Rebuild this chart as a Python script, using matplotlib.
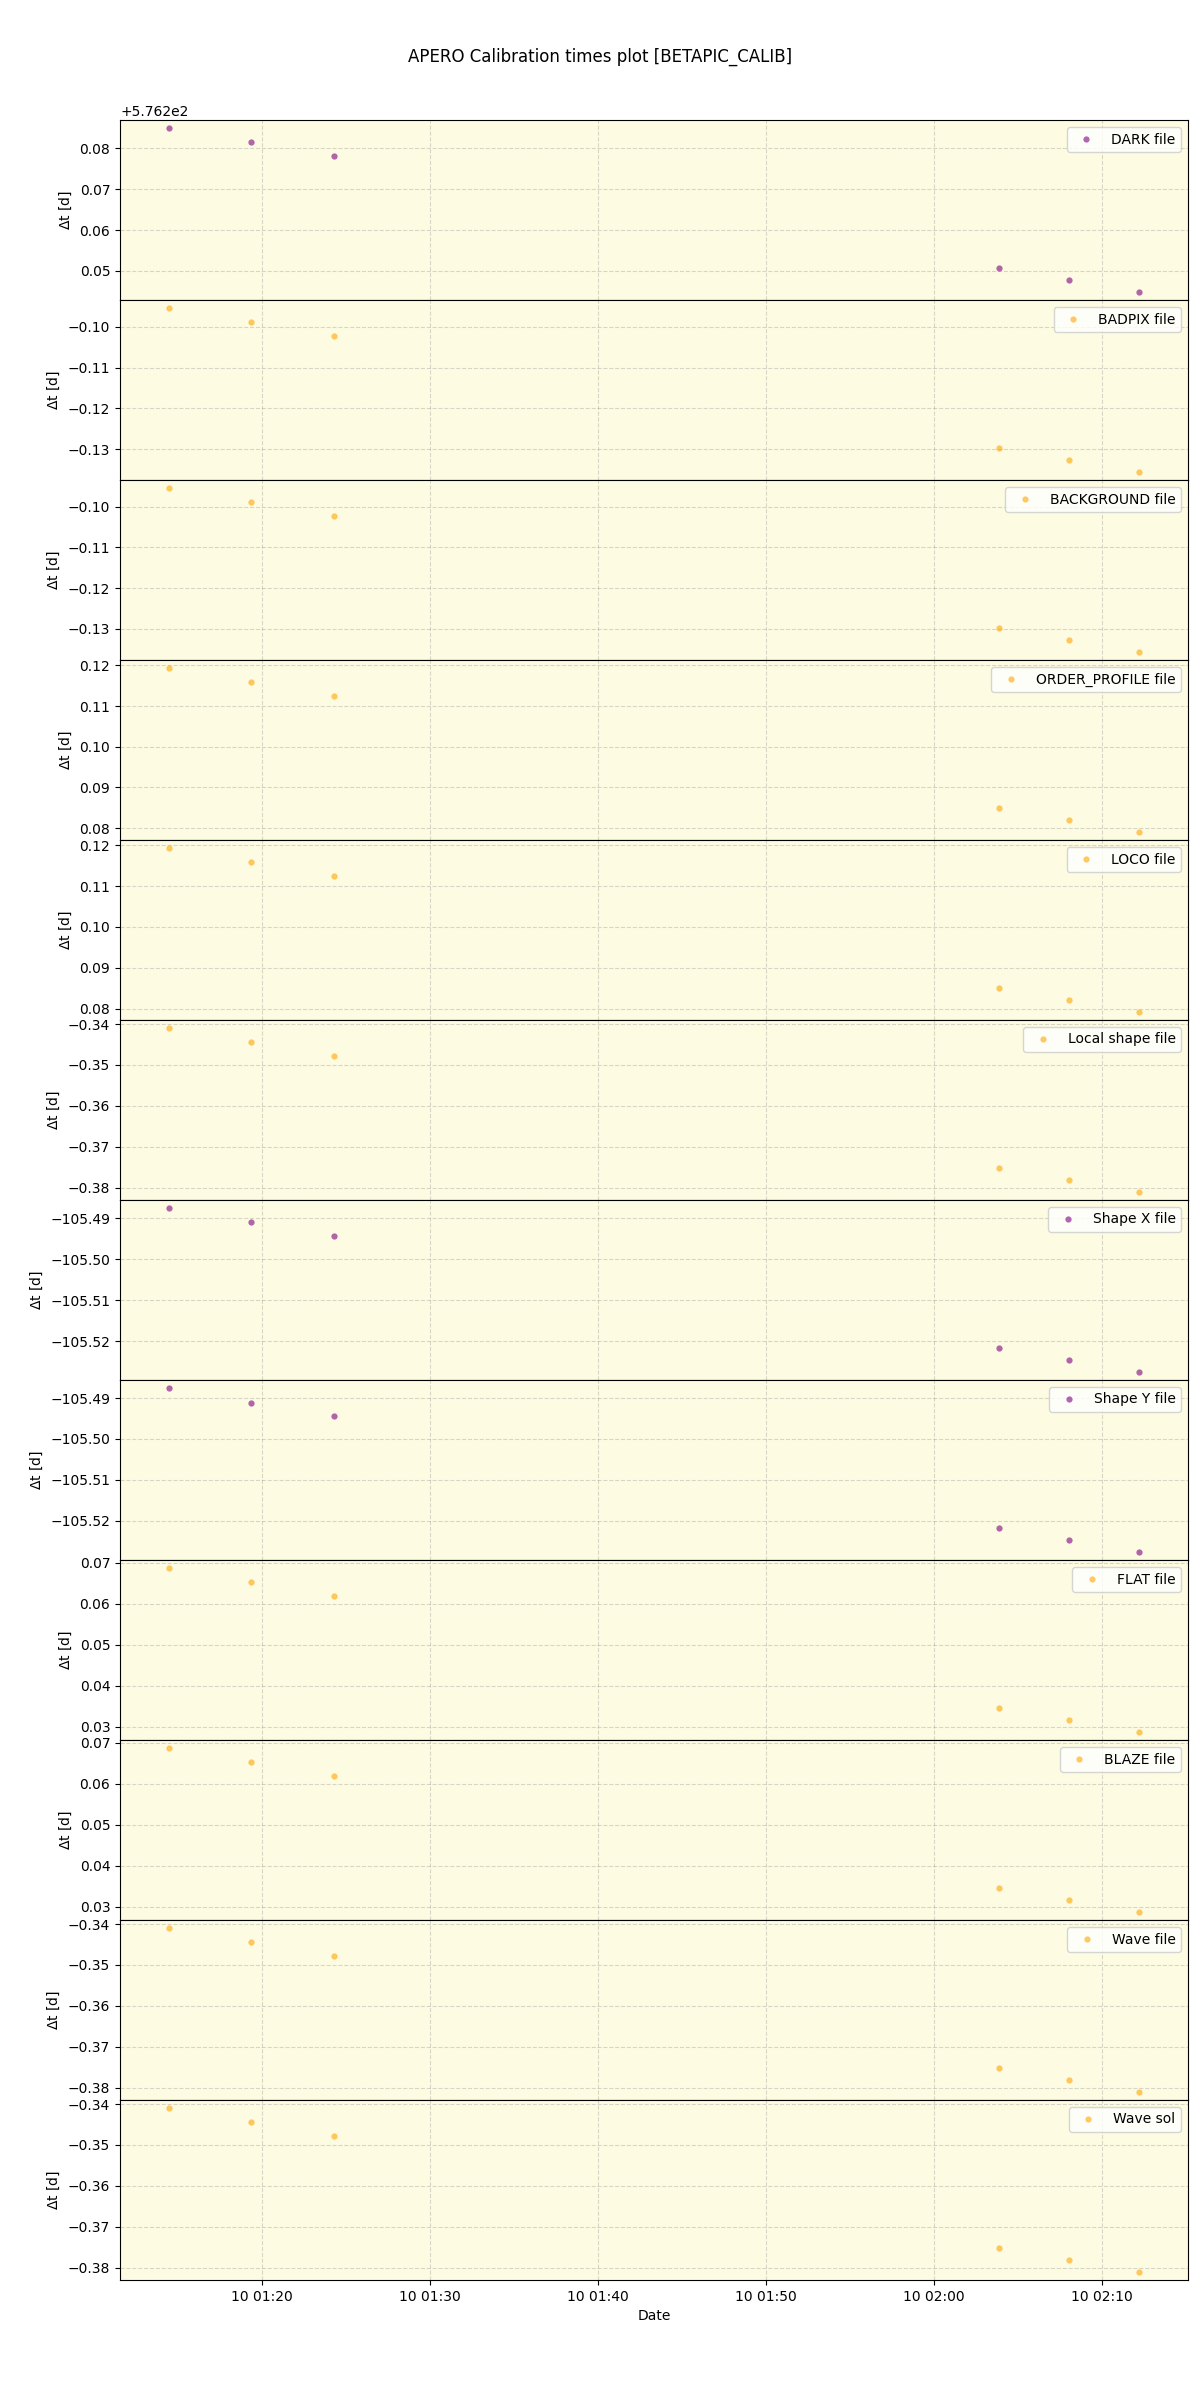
import numpy as np
import pandas as pd
import matplotlib
matplotlib.use('Agg')
import matplotlib.pyplot as plt

# observation times (all panels share them)
obs_times = pd.to_datetime(['2023-11-10 01:14:26', '2023-11-10 01:19:20',
                            '2023-11-10 01:24:18', '2023-11-10 02:03:53',
                            '2023-11-10 02:08:03', '2023-11-10 02:12:15'])

# calibration file labels, colours and delta-t values [days]
labels = ['DARK file', 'BADPIX file', 'BACKGROUND file', 'ORDER_PROFILE file',
          'LOCO file', 'Local shape file', 'Shape X file', 'Shape Y file',
          'FLAT file', 'BLAZE file', 'Wave file', 'Wave sol']
colors = ['purple', 'orange', 'orange', 'orange', 'orange', 'orange',
          'purple', 'purple', 'orange', 'orange', 'orange', 'orange']

dark = [576.2849, 576.2815, 576.2780, 576.2507, 576.2478, 576.2449]
badpix = [-0.0954, -0.0989, -0.1023, -0.1298, -0.1327, -0.1356]
background = [-0.0954, -0.0989, -0.1023, -0.1298, -0.1327, -0.1357]
order_profile = [0.1193, 0.1158, 0.1124, 0.0850, 0.0821, 0.0791]
loco = [0.1193, 0.1158, 0.1124, 0.0850, 0.0821, 0.0792]
local_shape = [-0.3410, -0.3444, -0.3478, -0.3752, -0.3781, -0.3810]
shape_x = [-105.4875, -105.4910, -105.4944, -105.5217, -105.5246, -105.5275]
shape_y = [-105.4876, -105.4911, -105.4945, -105.5218, -105.5247, -105.5276]
flat = [0.0687, 0.0653, 0.0619, 0.0345, 0.0316, 0.0287]
blaze = [0.0687, 0.0653, 0.0619, 0.0345, 0.0316, 0.0287]
wave_file = [-0.3410, -0.3444, -0.3478, -0.3752, -0.3781, -0.3810]
wave_sol = [-0.3410, -0.3444, -0.3478, -0.3752, -0.3781, -0.3810]

series = [dark, badpix, background, order_profile, loco, local_shape,
          shape_x, shape_y, flat, blaze, wave_file, wave_sol]

fig, axes = plt.subplots(len(series), 1, figsize=(12, 24), sharex=True)
fig.subplots_adjust(left=0.1, right=0.99, top=0.95, bottom=0.05, hspace=0)

for ax, vals, lab, col in zip(axes, series, labels, colors):
    ax.set_facecolor('#fdfbe2')
    ax.plot(obs_times, vals, 'o', color=col, alpha=0.6, ms=4.5,
            markeredgewidth=0, label=lab)
    ax.grid(True, linestyle='--', color='gray', alpha=0.3)
    ax.set_ylabel(r'$\Delta$t [d]')
    ax.legend(loc='upper right')

axes[-1].set_xlabel('Date')
fig.suptitle('APERO Calibration times plot [BETAPIC_CALIB]')

fig.savefig('out.png', dpi=100)
